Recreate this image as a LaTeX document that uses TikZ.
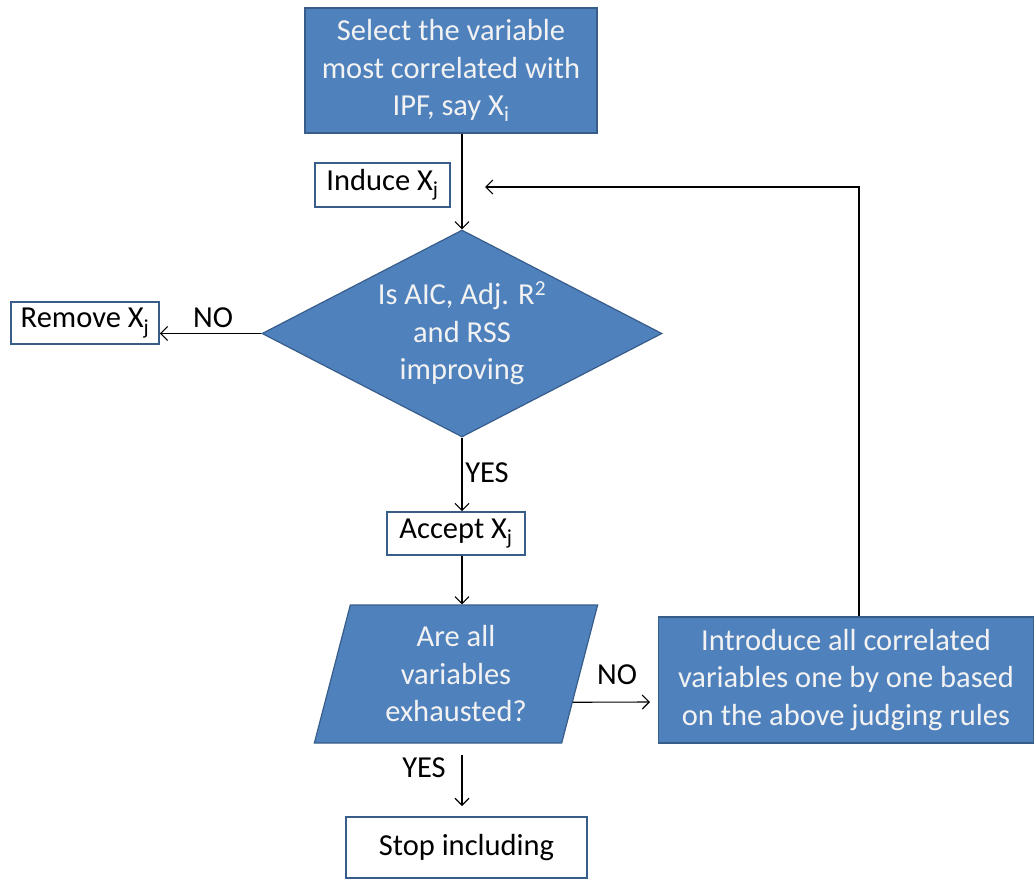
\documentclass[tikz,border=0pt]{standalone}
\usepackage{fontspec}
\setmainfont{Carlito}
\usetikzlibrary{shapes.geometric,arrows.meta,calc}
\definecolor{boxfill}{HTML}{4F81BD}
\definecolor{boxline}{HTML}{385D8A}
\definecolor{boxtext}{HTML}{F2F2F2}
\tikzset{
  base/.style={font=\fontsize{30.5}{37.5}\selectfont, inner sep=0pt, align=center},
  bluebox/.style={base, rectangle, fill=boxfill, draw=boxline, line width=1.5pt, text=boxtext},
  whitebox/.style={base, rectangle, fill=white, draw=boxline, line width=1.8pt, text=black},
  conn/.style={draw=black, line width=1.1pt, -{Straight Barb[length=7pt,width=14pt,line width=1.1pt]}},
  lbl/.style={base, text=black}
}
\begin{document}
\begin{tikzpicture}[x=1pt,y=-1pt]
\useasboundingbox (0,0) rectangle (1036,880);
% nodes
\node[bluebox, minimum width=292pt, minimum height=125pt] (top) at (451,70.5)
  {Select the variable\\most correlated with\\IPF, say X\textsubscript{i}};
\node[whitebox, minimum width=135pt, minimum height=44pt] (ind) at (382.5,185) {Induce X\textsubscript{j}};
\node[diamond, inner sep=1pt, fill=boxfill, draw=boxline, line width=1.2pt,
      minimum width=400pt, minimum height=207pt] (dia) at (462,333.5) {};
\node[base, text=boxtext] (diat) at (dia.center)
  {Is AIC, Adj. R\textsuperscript{2}\\and RSS\\improving};
\node[whitebox, minimum width=148pt, minimum height=42pt] (rem) at (85,323) {Remove X\textsubscript{j}};
\node[whitebox, minimum width=138pt, minimum height=43pt] (acc) at (456,533.5) {Accept X\textsubscript{j}};
\node[base, trapezium, trapezium left angle=76, trapezium right angle=104,
      trapezium stretches=true, fill=boxfill, draw=boxline, line width=1.2pt, text=boxtext,
      minimum width=284pt, minimum height=138pt] (par) at (456,674)
  {Are all\\variables\\exhausted?};
\node[bluebox, minimum width=375pt, minimum height=126pt] (rig) at (846,680)
  {Introduce all correlated\\variables one by one based\\on the above judging rules};
\node[whitebox, minimum width=241pt, minimum height=61pt] (stp) at (466.5,847.5) {Stop including};
% labels
\node[lbl] (no1) at (213,318) {NO};
\node[lbl] (yes1) at (487,473) {YES};
\node[lbl] (no2) at (617,675) {NO};
\node[lbl] (yes2) at (424,768) {YES};
% free ends
\coordinate (fbtop) at (859,187);
\coordinate (fbend) at (485,187);
\coordinate (noend) at (650,702);
\coordinate (yesst) at (462,755);
\coordinate (yesen) at (462,806);
% connectors
\draw[conn] (dia.north |- top.south) -- (dia.north);
\draw[conn] (fbtop |- rig.north) -- (fbtop) -- (fbend);
\draw[conn] (dia.west) -- (rem.east |- dia.west);
\draw[conn] (dia.south) -- (dia.south |- acc.north);
\draw[conn] (dia.south |- acc.south) -- (dia.south |- par.north);
\draw[conn] ($(par.top right corner)!0.703!(par.bottom right corner)$) -- (noend);
\draw[conn] (yesst) -- (yesen);
\end{tikzpicture}
\end{document}
